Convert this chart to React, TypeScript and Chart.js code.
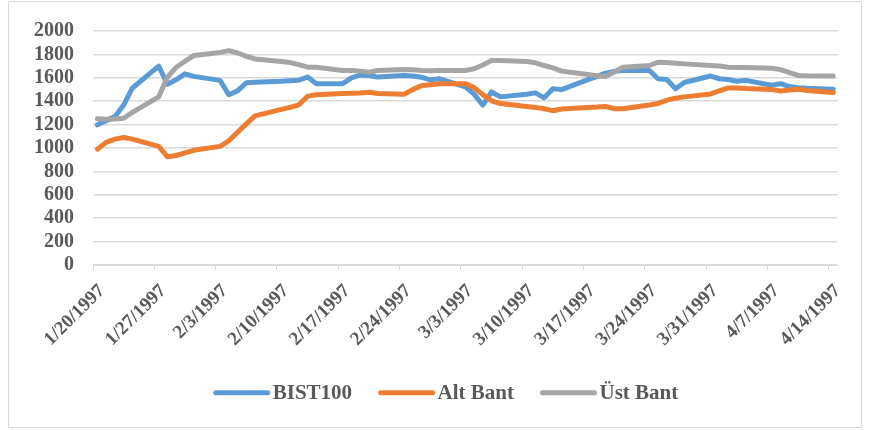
import React, { useEffect, useRef } from "react";
import { Chart, registerables } from "chart.js";

Chart.register(...registerables);

const dates: string[] = [
  "1/20/1997", "1/21/1997", "1/22/1997", "1/23/1997", "1/24/1997",
  "1/27/1997", "1/28/1997", "1/29/1997", "1/30/1997", "1/31/1997",
  "2/3/1997", "2/4/1997", "2/5/1997", "2/6/1997", "2/7/1997",
  "2/10/1997", "2/11/1997", "2/12/1997", "2/13/1997", "2/14/1997",
  "2/17/1997", "2/18/1997", "2/19/1997", "2/20/1997", "2/21/1997",
  "2/24/1997", "2/25/1997", "2/26/1997", "2/27/1997", "2/28/1997",
  "3/3/1997", "3/4/1997", "3/5/1997", "3/6/1997", "3/7/1997",
  "3/10/1997", "3/11/1997", "3/12/1997", "3/13/1997", "3/14/1997",
  "3/17/1997", "3/18/1997", "3/19/1997", "3/20/1997", "3/21/1997",
  "3/24/1997", "3/25/1997", "3/26/1997", "3/27/1997", "3/28/1997",
  "3/31/1997", "4/1/1997", "4/2/1997", "4/3/1997", "4/4/1997",
  "4/7/1997", "4/8/1997", "4/9/1997", "4/10/1997", "4/11/1997",
  "4/14/1997",
];

const bist100: number[] = [
  1198, 1234, 1268, 1367, 1513,
  1700, 1545, 1583, 1634, 1612,
  1578, 1455, 1488, 1558, 1562,
  1570, 1575, 1580, 1606, 1550,
  1550, 1600, 1623, 1620, 1606,
  1620, 1616, 1605, 1583, 1592,
  1522, 1460, 1367, 1479, 1437,
  1460, 1471, 1429, 1507, 1499,
  1585, 1610, 1640, 1655, 1663,
  1663, 1592, 1586, 1507, 1560,
  1615, 1592, 1586, 1570, 1578,
  1536, 1550, 1525, 1515, 1510,
  1502,
];

const altBant: number[] = [
  990, 1048, 1076, 1090, 1076,
  1014, 925, 936, 958, 980,
  1014, 1062, 1135, 1206, 1274,
  1330, 1347, 1369, 1443, 1456,
  1465, 1468, 1471, 1476, 1465,
  1460, 1499, 1533, 1541, 1550,
  1550, 1516, 1456, 1403, 1380,
  1355, 1347, 1336, 1319, 1333,
  1347, 1350, 1355, 1336, 1336,
  1367, 1380, 1409, 1426, 1437,
  1462, 1488, 1513, 1513, 1508,
  1499, 1488, 1495, 1502, 1491,
  1474,
];

const ustBant: number[] = [
  1250, 1245, 1248, 1254, 1305,
  1437, 1606, 1690, 1741, 1790,
  1817, 1832, 1812, 1784, 1761,
  1739, 1730, 1713, 1691, 1691,
  1663, 1663, 1657, 1648, 1663,
  1671, 1668, 1663, 1660, 1663,
  1663, 1678, 1710, 1747, 1747,
  1739, 1728, 1705, 1685, 1657,
  1629, 1618, 1612, 1650, 1691,
  1705, 1733, 1730, 1725, 1719,
  1705, 1700, 1691, 1688, 1688,
  1682, 1670, 1645, 1620, 1617,
  1615,
];

const tickLabels: string[] = [
  "1/20/1997", "1/27/1997", "2/3/1997", "2/10/1997", "2/17/1997",
  "2/24/1997", "3/3/1997", "3/10/1997", "3/17/1997", "3/24/1997",
  "3/31/1997", "4/7/1997", "4/14/1997",
];

const yTicks: number[] = [0, 200, 400, 600, 800, 1000, 1200, 1400, 1600, 1800, 2000];

const seriesNames = ["BIST100", "Alt Bant", "Üst Bant"];
const seriesColors = ["#5B9BD5", "#ED7D31", "#A5A5A5"];

function utcOf(s: string): number {
  const [m, d, y] = s.split("/").map(Number);
  return Date.UTC(y, m - 1, d);
}
const base = utcOf(dates[0]);
function dayOf(s: string): number {
  return Math.round((utcOf(s) - base) / 86400000);
}

const FONT = '"Liberation Serif", "Times New Roman", serif';

export default function App() {
  const ref = useRef<HTMLCanvasElement | null>(null);

  useEffect(() => {
    if (!ref.current) return;
    const tickValues = tickLabels.map(dayOf);
    const axisMax = dayOf(dates[dates.length - 1]) + 1;
    const seriesValues = [bist100, altBant, ustBant];

    const frame = {
      id: "frame",
      beforeDraw(chart: any) {
        const c = chart.ctx;
        c.save();
        c.strokeStyle = "#d9d9d9";
        c.lineWidth = 1;
        c.strokeRect(8.5, 1.5, 853, 426);
        c.restore();
      },
      afterDraw(chart: any) {
        const c = chart.ctx;
        c.save();
        c.font = `bold 21px ${FONT}`;
        c.textBaseline = "middle";
        const lineLen = 52;
        const gapText = 5;
        const gapItem = 28.5;
        const items = chart.data.datasets.map((ds: any) => ({
          label: ds.label,
          color: ds.borderColor,
          w: c.measureText(ds.label).width,
        }));
        let total = 0;
        items.forEach((it: any, i: number) => {
          total += lineLen + gapText + it.w + (i < items.length - 1 ? gapItem : 0);
        });
        let x = 445.75 - (total + 2.5) / 2 + 2.5;
        const y = 392.7;
        items.forEach((it: any) => {
          c.strokeStyle = it.color;
          c.lineWidth = 5;
          c.lineCap = "round";
          c.beginPath();
          c.moveTo(x, y);
          c.lineTo(x + lineLen, y);
          c.stroke();
          x += lineLen + gapText;
          c.fillStyle = "#595959";
          c.textAlign = "left";
          c.fillText(it.label, x, y + 1);
          x += it.w + gapItem;
        });
        c.restore();
      },
    };

    const chart = new Chart(ref.current, {
      type: "line",
      data: {
        datasets: seriesNames.map((name, si) => ({
          label: name,
          data: dates.map((d, i) => ({ x: dayOf(d) + 0.5, y: seriesValues[si][i] })),
          borderColor: seriesColors[si],
          backgroundColor: seriesColors[si],
          borderWidth: 5,
          pointRadius: 0,
          tension: 0,
          borderJoinStyle: "round",
          borderCapStyle: "round",
          fill: false,
          order: 2 - si,
        })),
      },
      options: {
        responsive: false,
        animation: false,
        devicePixelRatio: 1,
        layout: { padding: { left: 0, right: 31.4, top: 29, bottom: 0 } },
        plugins: { legend: { display: false }, tooltip: { enabled: false } },
        scales: {
          x: {
            type: "linear",
            min: 0,
            max: axisMax,
            afterBuildTicks: (s: any) => {
              s.ticks = tickValues.map((v) => ({ value: v }));
            },
            afterFit: (s: any) => {
              s.height = 165;
            },
            grid: {
              drawOnChartArea: false,
              drawTicks: true,
              tickLength: 5,
              color: "#d9d9d9",
              lineWidth: 1,
            },
            border: { display: true, color: "#d9d9d9", width: 1 },
            ticks: {
              autoSkip: false,
              minRotation: 45,
              maxRotation: 45,
              padding: 10,
              labelOffset: 9,
              color: "#595959",
              font: { family: FONT, size: 19, weight: "bold" },
              callback: (v: any) => {
                const idx = tickValues.indexOf(Number(v));
                return idx >= 0 ? tickLabels[idx] : "";
              },
            },
          },
          y: {
            min: 0,
            max: 2000,
            afterBuildTicks: (s: any) => {
              s.ticks = yTicks.map((v) => ({ value: v }));
            },
            afterFit: (s: any) => {
              s.width = 93;
            },
            grid: { color: "#d9d9d9", lineWidth: 1.5, drawTicks: false },
            border: { display: false },
            ticks: {
              autoSkip: false,
              padding: 19,
              color: "#595959",
              font: { family: FONT, size: 20, weight: "bold" },
              callback: (v: any) => String(v),
            },
          },
        },
      },
      plugins: [frame],
    } as any);

    return () => chart.destroy();
  }, []);

  return (
    <div style={{ position: "absolute", left: 0, top: 0, width: 869, height: 430, background: "#fff" }}>
      <canvas ref={ref} width={869} height={430} style={{ display: "block" }} />
    </div>
  );
}
